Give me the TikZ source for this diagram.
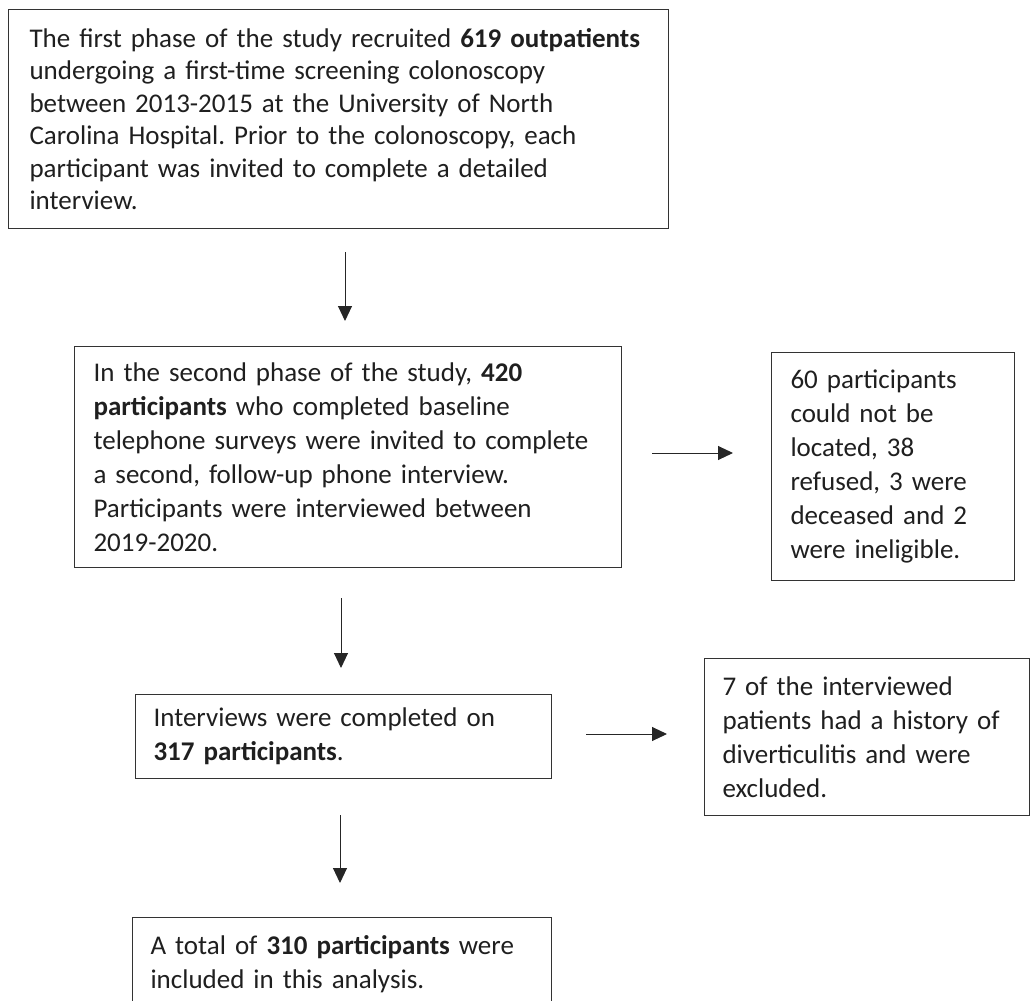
\documentclass[tikz,border=0pt]{standalone}
\usepackage{fontspec}
\setmainfont{Carlito}
\usetikzlibrary{arrows.meta}
\frenchspacing

\begin{document}
\begin{tikzpicture}[x=1pt, y=-1pt,
        box/.style={rectangle, draw=black!80, line width=1.1pt, anchor=north west, align=left,
            inner xsep=19pt, inner ysep=0pt, text=black!88, font=\fontsize{27}{34}\selectfont},
        arrow/.style={-{Triangle[length=15pt, width=14pt]}, line width=1pt, black!85}
    ]
        \useasboundingbox (0,0) rectangle (1031,1001);

        % Phase 1
        \node[box, inner xsep=21pt, font=\fontsize{27}{32.5}\selectfont,
            minimum width=660pt, text width=618pt, minimum height=219pt] (phase1) at (8,9)
            {\mbox{The first phase of the study recruited \textbf{619 outpatients}}\\
             undergoing a first-time screening colonoscopy\\
             between 2013-2015 at the University of North\\
             Carolina Hospital. Prior to the colonoscopy, each\\
             participant was invited to complete a detailed\\
             interview.};

        % Phase 2
        \node[box, minimum width=547pt, text width=509pt, minimum height=221pt] (phase2) at (74,346)
            {In the second phase of the study, \textbf{420}\\
             \textbf{participants} who completed baseline\\
             telephone surveys were invited to complete\\
             a second, follow-up phone interview.\\
             Participants were interviewed between\\
             2019-2020.};
        \node[box, minimum width=243pt, text width=205pt, minimum height=228pt] (lost) at (771,352)
            {60 participants\\
             could not be\\
             located, 38\\
             refused, 3 were\\
             deceased and 2\\
             were ineligible.};

        % Interviews
        \node[box, inner xsep=18pt, minimum width=416pt, text width=380pt, minimum height=84pt] (done) at (135,694)
            {Interviews were completed on\\
             \textbf{317 participants}.};
        \node[box, inner xsep=18pt, minimum width=325pt, text width=289pt, minimum height=157pt] (excl) at (704,658)
            {7 of the interviewed\\
             patients had a history of\\
             diverticulitis and were\\
             excluded.};

        % Final sample
        \node[box, inner xsep=18pt, minimum width=419pt, text width=383pt, minimum height=93pt] (final) at (132,917)
            {A total of \textbf{310 participants} were\\
             included in this analysis.};

        % Arrows
        \coordinate (a1s) at (345,252);  \coordinate (a1e) at (345,321);
        \coordinate (a2s) at (652,453);  \coordinate (a2e) at (733,453);
        \coordinate (a3s) at (341,598);  \coordinate (a3e) at (341,668);
        \coordinate (a4s) at (586,734);  \coordinate (a4e) at (667,734);
        \coordinate (a5s) at (340,815);  \coordinate (a5e) at (340,883);
        \draw[arrow] (a1s) -- (a1e);
        \draw[arrow] (a2s) -- (a2e);
        \draw[arrow] (a3s) -- (a3e);
        \draw[arrow] (a4s) -- (a4e);
        \draw[arrow] (a5s) -- (a5e);
    \end{tikzpicture}
\end{document}
